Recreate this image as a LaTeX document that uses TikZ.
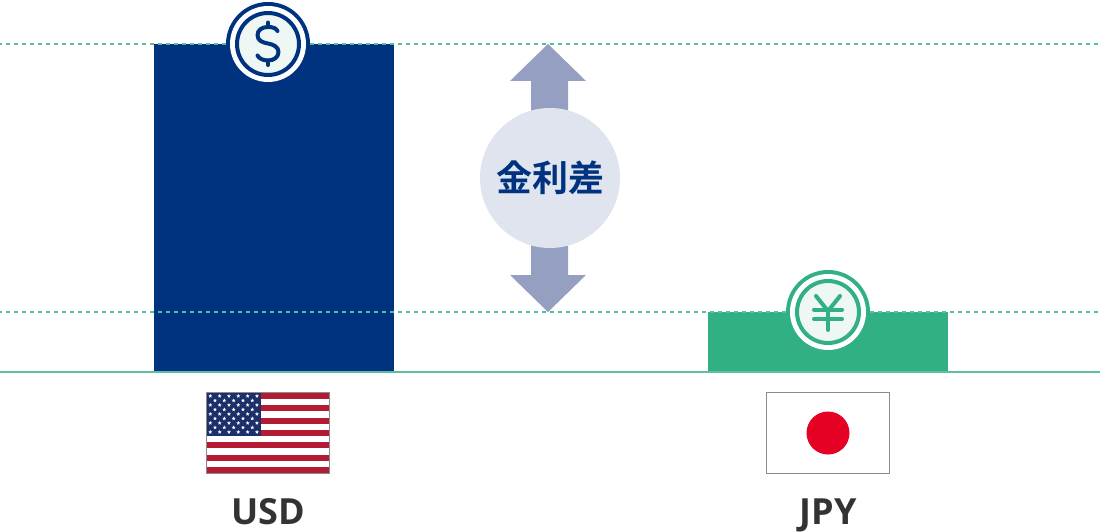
\documentclass[tikz,border=0pt]{standalone}
\usepackage{fontspec}
\setmainfont{Open Sans}
\newfontfamily\cjk{Noto Sans CJK JP}[BoldFont={Noto Sans CJK JP Bold}]
\definecolor{navy}{HTML}{00337F}
\definecolor{teal}{HTML}{31B084}
\definecolor{dashc}{HTML}{55C0A0}
\definecolor{basec}{HTML}{5CBFA3}
\definecolor{coin}{HTML}{EEF7F4}
\definecolor{arrowc}{HTML}{949FC1}
\definecolor{bub}{HTML}{E0E4EF}
\definecolor{flagred}{HTML}{B31B34}
\definecolor{flagblue}{HTML}{1B2F68}
\definecolor{jpred}{HTML}{E60023}
\definecolor{ink}{HTML}{333333}
\newcommand{\ustar}[2]{\fill[white] (#1+0,#2-2)--(#1+.55,#2-.7)--(#1+1.95,#2-.6)--(#1+.85,#2+.3)--(#1+1.2,#2+1.7)--(#1+0,#2+.9)--(#1-1.2,#2+1.7)--(#1-.85,#2+.3)--(#1-1.95,#2-.6)--(#1-.55,#2-.7)--cycle;}
\tikzset{
  x=1pt,y=-1pt,
  refline/.style={dashc,line width=1.8pt,dash pattern=on 4pt off 4pt,dash phase=2pt},
  barbox/.style={rectangle,inner sep=0pt,minimum width=240pt},
  coinouter/.style={circle,inner sep=0pt,minimum size=84pt},
  coinwhite/.style={circle,fill=white,inner sep=0pt,minimum size=76pt},
  coinring/.style={circle,fill=coin,inner sep=0pt,minimum size=62pt,line width=4pt},
  glyph/.style={line width=4pt,line cap=round,line join=round},
  flagframe/.style={rectangle,draw=black!45,line width=1.3pt,inner sep=0pt,minimum width=123pt,minimum height=81pt},
  code/.style={font=\bfseries\fontsize{36pt}{36pt}\selectfont,text=ink,inner sep=0pt,anchor=base},
}
\begin{document}
\begin{tikzpicture}
\useasboundingbox (0,0) rectangle (1100,532);
% bars
\node[barbox,fill=navy,minimum height=328pt] (usdbar) at (274,208) {};
\node[barbox,fill=teal,minimum height=60pt] (jpybar) at (828,342) {};
% reference lines and base line
\coordinate (t0) at (0,44); \coordinate (t1) at (1100,44);
\coordinate (b0) at (0,312); \coordinate (b1) at (1100,312);
\coordinate (g0) at (0,372); \coordinate (g1) at (1100,372);
\draw[refline] (t0) -- (t1);
\draw[refline] (b0) -- (b1);
\draw[basec,line width=2pt] (g0) -- (g1);
% dollar coin
\node[coinouter,fill=navy] (dollarouter) at (268,44) {};
\node[coinwhite] (dollarwhite) at (268,44) {};
\node[coinring,draw=navy] (dollar) at (268,44) {};
\draw[navy,glyph] (277.5,31) .. controls (276,28) and (272.5,27) .. (268,27)
  .. controls (262,27) and (257.5,30) .. (257.5,35.2)
  .. controls (257.5,41) and (263,42.5) .. (268,43.5)
  .. controls (273,44.5) and (278.5,46.5) .. (278.5,52)
  .. controls (278.5,57) and (274,60.5) .. (268,60.5)
  .. controls (263,60.5) and (259,58.5) .. (257.5,55.5);
\draw[navy,glyph] (268,22.5) -- (268,27);
\draw[navy,glyph] (268,60.5) -- (268,65);
% yen coin
\node[coinouter,fill=teal] (yenouter) at (828,312) {};
\node[coinwhite] (yenwhite) at (828,312) {};
\node[coinring,draw=teal] (yen) at (828,312) {};
\draw[teal,glyph] (816,296) -- (828,311) -- (840,296);
\draw[teal,glyph] (828,311) -- (828,330);
\draw[teal,glyph] (814,309.5) -- (842,309.5);
\draw[teal,glyph] (814,319) -- (842,319);
% double arrow
\fill[arrowc] (548,44) -- (586,81) -- (568,81) -- (568,120) -- (531,120) -- (531,81) -- (510,81) -- cycle;
\fill[arrowc] (548,312) -- (586,275) -- (568,275) -- (568,235) -- (531,235) -- (531,275) -- (510,275) -- cycle;
\node[circle,fill=bub,inner sep=0pt,minimum size=140pt,text=navy,font=\cjk\bfseries\fontsize{36pt}{36pt}\selectfont] (gap) at (550,178) {金利差};
% US flag
\fill[white] (207,393) rectangle (329,473);
\foreach \i in {0,2,4,6,8,10,12}{
  \fill[flagred] (207,393+\i*6.154) rectangle (329,393+\i*6.154+6.154);
}
\fill[flagblue] (207,393) rectangle (261,436);
\foreach \r in {0,2,4,6,8}{\foreach \c in {0,...,5}{\ustar{210.3+\c*9.33}{396+\r*4.5}}}
\foreach \r in {1,3,5,7}{\foreach \c in {0,...,4}{\ustar{215+\c*9.33}{396+\r*4.5}}}
\node[flagframe] (usflag) at (268,432.8) {};
% JP flag
\node[flagframe,fill=white] (jpflag) at (828,432.8) {};
\node[circle,fill=jpred,inner sep=0pt,minimum size=43pt] (sun) at (828,433) {};
% labels
\node[code] (usd) at (268,524.5) {USD};
\node[code] (jpy) at (828,524.5) {JPY};
\end{tikzpicture}
\end{document}
